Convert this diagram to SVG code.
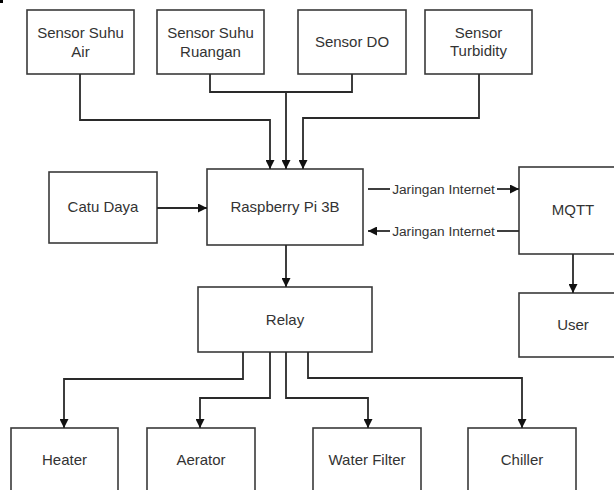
<svg xmlns="http://www.w3.org/2000/svg" width="614" height="490" viewBox="0 0 614 490">
<style>
.box{fill:#fff;stroke:#3a3a3a;stroke-width:1.6}
.t{font-family:"Liberation Sans",Arial,sans-serif;font-size:15px;fill:#333;text-anchor:middle}
.lbl{font-family:"Liberation Sans",Arial,sans-serif;font-size:13.7px;fill:#333;text-anchor:middle}
.c{fill:none;stroke:#2a2a2a;stroke-width:1.8}
</style>
<defs>
<marker id="ah" viewBox="0 0 10 10" refX="10" refY="5" markerWidth="10" markerHeight="9" markerUnits="userSpaceOnUse" orient="auto">
<path d="M0,0 L10,5 L0,10 Z" fill="#111"/>
</marker>
</defs>
<rect x="0" y="0" width="3" height="3" fill="#000"/>
<g id="sensor-suhu-air"><rect class="box" x="27" y="10" width="107" height="64"/><text class="t" x="80.5" y="38">Sensor Suhu</text><text class="t" x="80.5" y="57">Air</text></g>
<g id="sensor-suhu-ruangan"><rect class="box" x="157" y="10" width="107" height="64"/><text class="t" x="210.5" y="38">Sensor Suhu</text><text class="t" x="210.5" y="57">Ruangan</text></g>
<g id="sensor-do"><rect class="box" x="298" y="10" width="108" height="64"/><text class="t" x="352" y="47">Sensor DO</text></g>
<g id="sensor-turbidity"><rect class="box" x="425" y="10" width="107" height="64"/><text class="t" x="478.5" y="38">Sensor</text><text class="t" x="478.5" y="56">Turbidity</text></g>
<g id="catu-daya"><rect class="box" x="49" y="172" width="108" height="71"/><text class="t" x="103" y="212">Catu Daya</text></g>
<g id="raspberry"><rect class="box" x="207" y="169" width="156" height="76"/><text class="t" x="285" y="212">Raspberry Pi 3B</text></g>
<g id="mqtt"><rect class="box" x="519" y="167" width="110" height="87"/><text class="t" x="573" y="215">MQTT</text></g>
<g id="user"><rect class="box" x="519" y="293" width="110" height="64"/><text class="t" x="573" y="330">User</text></g>
<g id="relay"><rect class="box" x="198" y="287" width="174" height="65"/><text class="t" x="285" y="325">Relay</text></g>
<g id="heater"><rect class="box" x="11" y="428" width="107" height="80"/><text class="t" x="64.5" y="465">Heater</text></g>
<g id="aerator"><rect class="box" x="147" y="428" width="108" height="80"/><text class="t" x="201" y="465">Aerator</text></g>
<g id="water-filter"><rect class="box" x="313" y="428" width="108" height="80"/><text class="t" x="367" y="465">Water Filter</text></g>
<g id="chiller"><rect class="box" x="468" y="428" width="108" height="80"/><text class="t" x="522" y="465">Chiller</text></g>
<g id="connectors">
<path class="c" d="M80,74 V120 H270 V169" marker-end="url(#ah)"/>
<path class="c" d="M210,74 V92 H286 V169" marker-end="url(#ah)"/>
<path class="c" d="M352,74 V92 H286"/>
<path class="c" d="M479,74 V118 H303 V169" marker-end="url(#ah)"/>
<path class="c" d="M157,208 H207" marker-end="url(#ah)"/>
<path class="c" d="M286,245 V287" marker-end="url(#ah)"/>
<path class="c" d="M573,254 V293" marker-end="url(#ah)"/>
<path class="c" d="M368,189 H390"/>
<path class="c" d="M497,189 H519" marker-end="url(#ah)"/>
<text class="lbl" x="443.5" y="193.5">Jaringan Internet</text>
<path class="c" d="M519,231 H497"/>
<path class="c" d="M390,231 H368" marker-end="url(#ah)"/>
<text class="lbl" x="443.5" y="235.5">Jaringan Internet</text>
<path class="c" d="M243,352 V379 H64 V428" marker-end="url(#ah)"/>
<path class="c" d="M270,352 V398 H200 V428" marker-end="url(#ah)"/>
<path class="c" d="M286,352 V398 H368 V428" marker-end="url(#ah)"/>
<path class="c" d="M308,352 V378 H522 V428" marker-end="url(#ah)"/>
</g>
</svg>
